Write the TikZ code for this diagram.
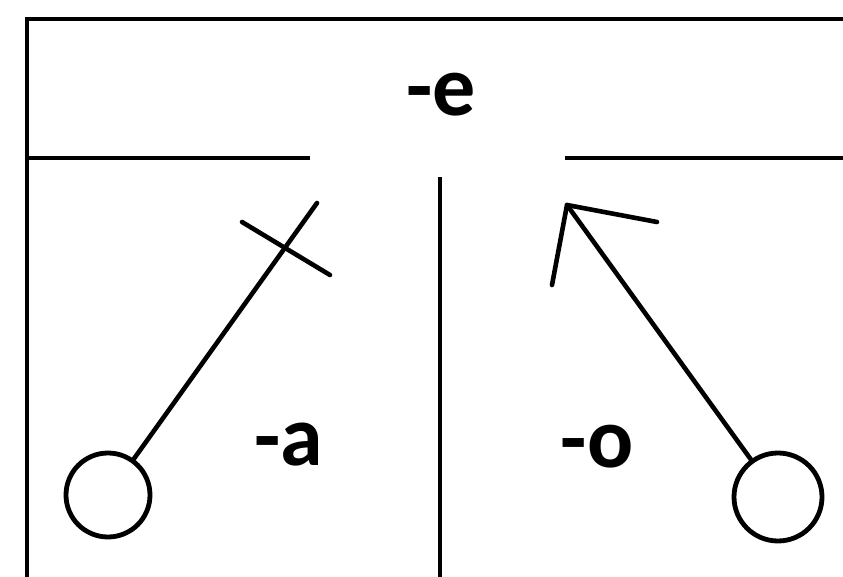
\documentclass[tikz,border=0pt]{standalone}
\usepackage{fontspec}
\setmainfont{Carlito}
\begin{document}
\begin{tikzpicture}[x=1pt,y=-1pt,
  frame/.style={line width=3.2pt,black},
  stroke/.style={line width=4.6pt,black,line cap=round,line join=round},
  ring/.style={circle,draw,line width=4.8pt,inner sep=0pt},
  lbl/.style={font=\bfseries\fontsize{86}{92}\selectfont,inner sep=0pt}]
\useasboundingbox (0,0) rectangle (843,577);
% frame
\coordinate (tl) at (27,19);
\coordinate (tr) at (843,19);
\coordinate (bl) at (27,577);
\coordinate (ml) at (27,158);
\coordinate (mlr) at (310,158);
\coordinate (mrl) at (565,158);
\coordinate (mr) at (843,158);
\coordinate (vt) at (440,177);
\coordinate (vb) at (440,577);
\draw[frame] (tr) -- (tl) -- (bl);
\draw[frame] (ml) -- (mlr);
\draw[frame] (mrl) -- (mr);
\draw[frame] (vt) -- (vb);
% labels
\node[lbl] (le) at (441,95) {-e};
\node[lbl] (la) at (289,445) {-a};
\node[lbl] (lo) at (597,447) {-o};
% left: pin with cross
\node[ring,minimum size=84pt] (c1) at (108,495) {};
\coordinate (t1) at (317,203);
\coordinate (x1) at (242,222);
\coordinate (x2) at (330,275);
\draw[stroke] (c1) -- (t1);
\draw[stroke] (x1) -- (x2);
% right: pin with arrow
\node[ring,minimum size=88pt] (c2) at (778,497) {};
\coordinate (tip) at (567,205);
\coordinate (h1) at (657,222);
\coordinate (h2) at (552,285);
\draw[stroke] (c2) -- (tip);
\draw[stroke] (h1) -- (tip) -- (h2);
\end{tikzpicture}
\end{document}
